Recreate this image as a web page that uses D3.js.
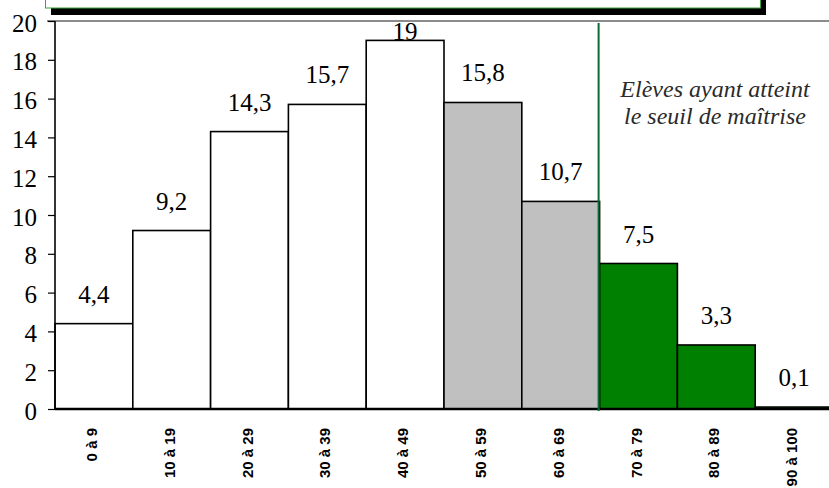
<!DOCTYPE html>
<html>
<head>
<meta charset="utf-8">
<script src="https://cdn.jsdelivr.net/npm/d3@7"></script>
<style>
  html, body { margin: 0; padding: 0; background: #fff; }
  svg { display: block; }
</style>
</head>
<body>
<svg id="chart" width="829" height="488"></svg>
<script>
// Score bands and share of pupils (%) in each band
const categories = ["0 à 9", "10 à 19", "20 à 29", "30 à 39", "40 à 49",
                    "50 à 59", "60 à 69", "70 à 79", "80 à 89", "90 à 100"];
const values = [4.4, 9.2, 14.3, 15.7, 19, 15.8, 10.7, 7.5, 3.3, 0.1];
// Fill group per band: below threshold, intermediate, mastery reached
const groups = ["low", "low", "low", "low", "low", "mid", "mid", "high", "high", "high"];
const yTicks = [0, 2, 4, 6, 8, 10, 12, 14, 16, 18, 20];
const thresholdCategory = "70 à 79";
const noteLines = ["Elèves ayant atteint", "le seuil de maîtrise"];

const fills = { low: "#ffffff", mid: "#c0c0c0", high: "#008000" };
const fmt = v => String(v).replace(".", ",");
const serif = "'Liberation Serif', 'Times New Roman', Times, serif";

const svg = d3.select("#chart");
const plotLeft = 55, plotRight = 833, plotTop = 21, plotBottom = 409;

const x = d3.scaleBand().domain(categories).range([plotLeft, plotRight]).padding(0);
const y = d3.scaleLinear().domain([0, 20]).range([plotBottom, plotTop]);

// Frame of the title box, cut off at the top edge, with its drop shadow
svg.append("rect").attr("x", 51).attr("y", -40).attr("width", 715).attr("height", 55)
  .attr("fill", "#000");
svg.append("rect").attr("x", 45.5).attr("y", -40).attr("width", 715).attr("height", 48)
  .attr("fill", "#fff").attr("stroke", "#3aa53a").attr("stroke-width", 1);

// Plot area top border
svg.append("line").attr("x1", 47).attr("x2", 829).attr("y1", y(20)).attr("y2", y(20))
  .attr("stroke", "#8c8c8c").attr("stroke-width", 2);

// Bars
svg.append("g").selectAll("rect").data(values).join("rect")
  .attr("x", (d, i) => x(categories[i]))
  .attr("y", d => y(d))
  .attr("width", x.bandwidth())
  .attr("height", d => y(0) - y(d))
  .attr("fill", (d, i) => fills[groups[i]])
  .attr("stroke", "#000")
  .attr("stroke-width", 1.6);

// Value labels above bars
svg.append("g").selectAll("text").data(values).join("text")
  .attr("x", (d, i) => x(categories[i]) + x.bandwidth() / 2)
  .attr("y", d => Math.max(y(d) - 21, y(20) + 19))
  .attr("text-anchor", "middle")
  .attr("font-family", serif)
  .attr("font-size", 25)
  .attr("fill", "#000")
  .text(d => fmt(d));

// Y axis
const yAxis = d3.axisLeft(y).tickValues(yTicks).tickSize(7).tickPadding(11)
  .tickFormat(d => d);
const gy = svg.append("g").attr("transform", `translate(${plotLeft},0)`).call(yAxis);
gy.select(".domain").remove();
gy.selectAll(".tick line").attr("stroke", "#000").attr("stroke-width", 1.2);
gy.selectAll(".tick text")
  .attr("font-family", serif)
  .attr("font-size", 25).attr("fill", "#000").attr("dy", "0.4em");
svg.append("line").attr("x1", plotLeft).attr("x2", plotLeft).attr("y1", y(20)).attr("y2", y(0))
  .attr("stroke", "#000").attr("stroke-width", 1.6);

// X axis with rotated band labels
const xAxis = d3.axisBottom(x).tickSize(0).tickPadding(0);
const gx = svg.append("g").attr("transform", `translate(0,${plotBottom})`).call(xAxis);
gx.select(".domain").remove();
gx.selectAll(".tick text")
  .attr("transform", "translate(0,19) rotate(-90)")
  .attr("text-anchor", "end")
  .attr("x", 0).attr("y", 0).attr("dy", "0.2em")
  .attr("font-family", "'Liberation Sans', Arial, sans-serif")
  .attr("font-weight", "bold")
  .attr("font-size", 15)
  .attr("fill", "#000");
svg.append("line").attr("x1", plotLeft).attr("x2", 829).attr("y1", y(0)).attr("y2", y(0))
  .attr("stroke", "#000").attr("stroke-width", 2.6);

// Mastery threshold marker
const tx = x(thresholdCategory) - 1;
svg.append("line").attr("x1", tx).attr("x2", tx).attr("y1", y(20) + 2).attr("y2", y(0) + 2)
  .attr("stroke", "#0b6b35").attr("stroke-width", 2);

// Annotation
svg.append("text")
  .attr("x", 715).attr("y", 97)
  .attr("text-anchor", "middle")
  .attr("font-family", serif)
  .attr("font-style", "italic")
  .attr("font-size", 24)
  .attr("fill", "#2a2a2a")
  .selectAll("tspan").data(noteLines).join("tspan")
  .attr("x", 715)
  .attr("dy", (d, i) => i === 0 ? 0 : 27)
  .text(d => d);
</script>
</body>
</html>
